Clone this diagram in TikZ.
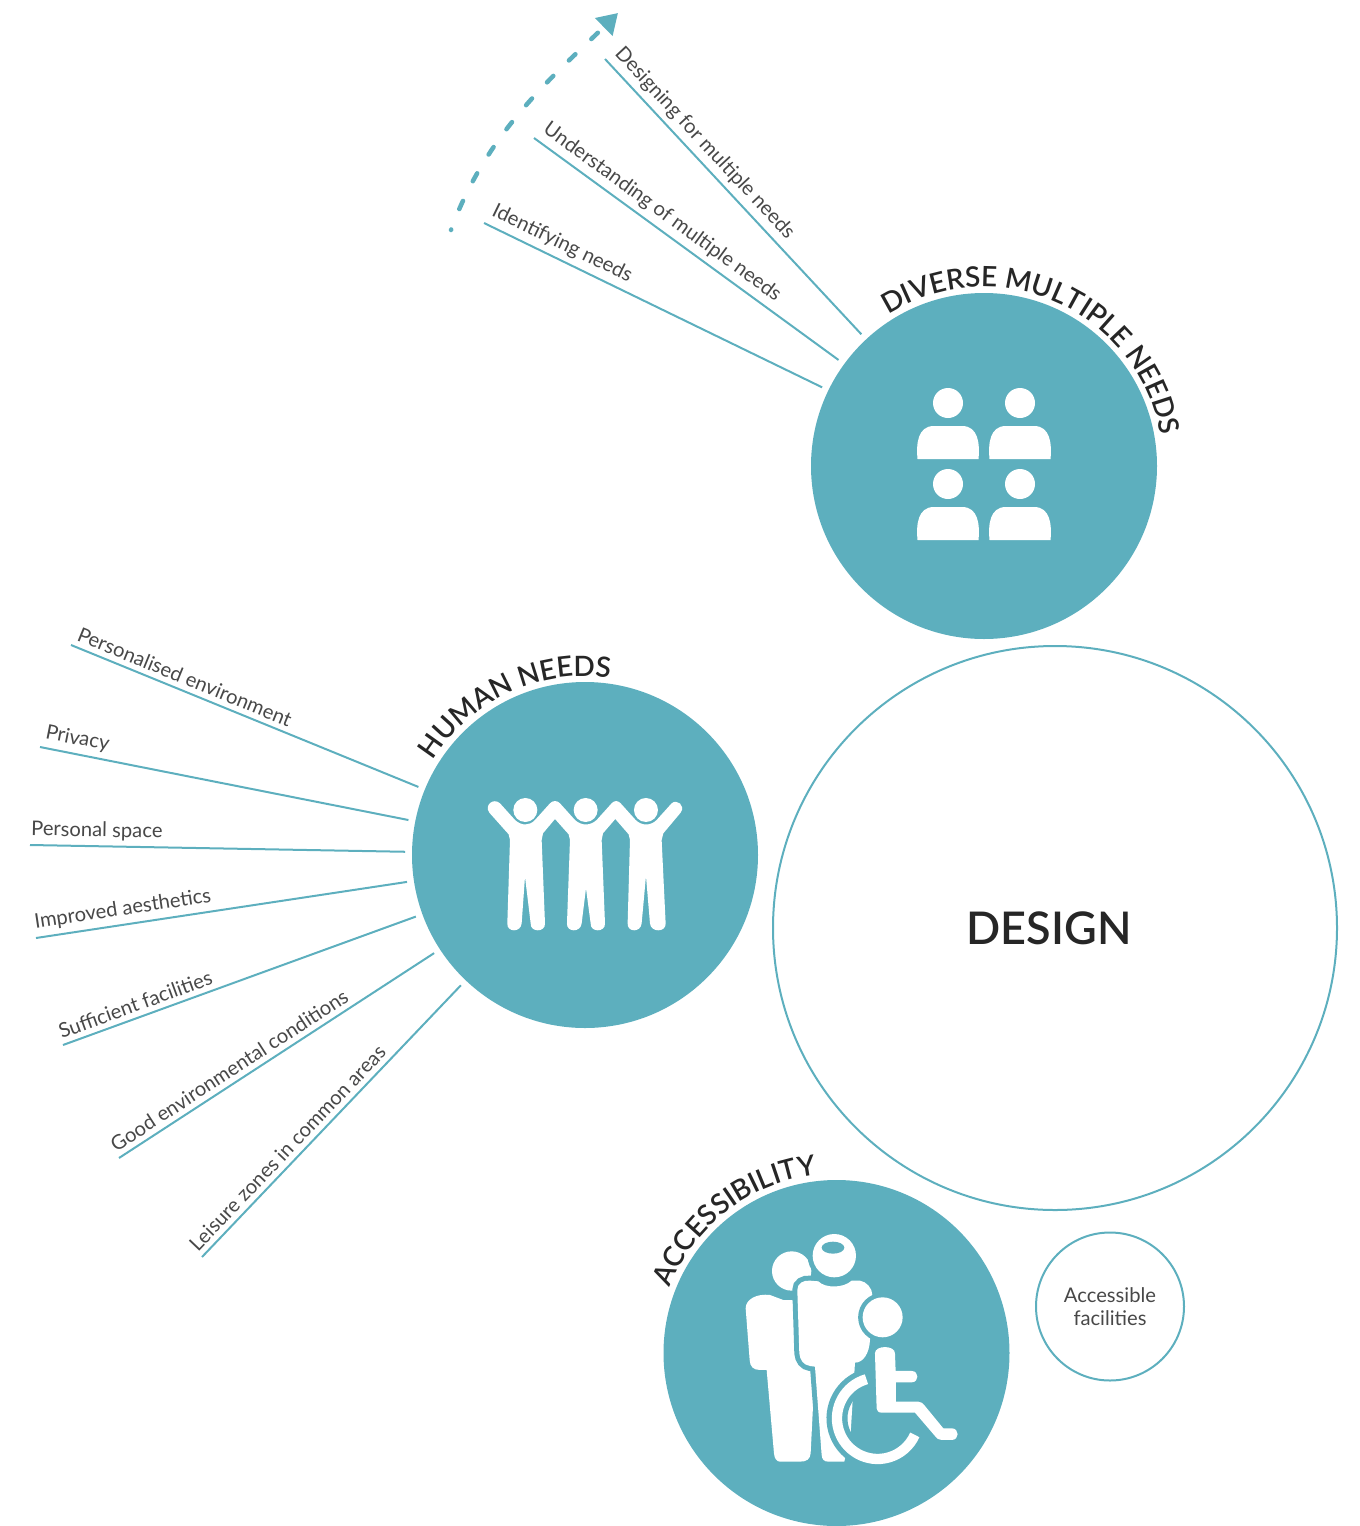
\documentclass[tikz,border=0pt]{standalone}
\usepackage{fontspec}
\setmainfont{Lato}
\newfontfamily\labelfont{Lato}
\newfontfamily\headfont{Lato Semibold}
\usetikzlibrary{arrows.meta,decorations.text}
\definecolor{needteal}{RGB}{93,175,190}
\definecolor{inkgrey}{RGB}{72,72,72}
\tikzset{
  disc/.style={circle,fill=needteal,minimum size=346pt,inner sep=0pt,outer sep=7pt},
  ring/.style={circle,draw=needteal,line width=2pt,inner sep=0pt},
  needline/.style={draw=needteal,line width=2pt},
  needlabel/.style={pos=0,sloped,anchor=south west,inner xsep=2pt,inner ysep=5pt,text=inkgrey,
    font=\labelfont\fontsize{20.2}{24}\selectfont},
  curvelabel/.style={decorate,decoration={text along path,text align=center,
    text={|\headfont\fontsize{28}{30}\selectfont\color{black!85}|#1}}},
  halo/.style={fill=white,preaction={draw=needteal,line width=#1}}
}
\begin{document}
\begin{tikzpicture}[x=1pt,y=-1pt]
\useasboundingbox (0,0) rectangle (1360,1526);

\node[disc] (diverse) at (984,466) {};
\node[disc] (human) at (585,855) {};
\node[disc] (access) at (836.5,1353) {};
\node[ring,minimum size=564pt,font=\headfont\fontsize{45}{50}\selectfont,text=black!85] (design) at (1055,928) {\makebox[0pt]{\hspace{-12pt}DESIGN}};
\node[ring,minimum size=148pt,align=center,text=inkgrey,font=\labelfont\fontsize{20.2}{23}\selectfont] (facilities) at (1110,1306.5) {\raisebox{-1.5pt}{Accessible}\\\raisebox{-1.5pt}{facilities}};

\path[curvelabel={DIVERSE MULTIPLE NEEDS}] (984,466) ++(-130:179) arc[start angle=-130,end angle=-2,radius=179];
\path[curvelabel={HUMAN NEEDS}] (585,855) ++(-170:179) arc[start angle=-170,end angle=-60,radius=179];
\path[curvelabel={ACCESSIBILITY}] (836.5,1353) ++(-170:179) arc[start angle=-170,end angle=-85,radius=179];

\coordinate (identify) at (484,223);
\coordinate (understand) at (534,138);
\coordinate (designing) at (605,59);
\draw[needline] (identify) -- (diverse) node[needlabel] (identifylabel) {Identifying needs};
\draw[needline] (understand) -- (diverse) node[needlabel] (understandlabel) {Understanding of multiple needs};
\draw[needline] (designing) -- (diverse) node[needlabel] (designinglabel) {Designing for multiple needs};

\coordinate (personalised) at (71,645);
\coordinate (privacy) at (40,747);
\coordinate (space) at (30,845);
\coordinate (aesthetics) at (36,938);
\coordinate (sufficient) at (63,1045);
\coordinate (conditions) at (119,1158);
\coordinate (leisure) at (202,1257);
\draw[needline] (personalised) -- (human) node[needlabel] (personalisedlabel) {Personalised environment};
\draw[needline] (privacy) -- (human) node[needlabel] (privacylabel) {Privacy};
\draw[needline] (space) -- (human) node[needlabel,inner xsep=0pt] (spacelabel) {Personal space};
\draw[needline] (aesthetics) -- (human) node[needlabel,inner xsep=0pt] (aestheticslabel) {Improved aesthetics};
\draw[needline] (sufficient) -- (human) node[needlabel,inner xsep=0pt] (sufficientlabel) {Sufficient facilities};
\draw[needline] (conditions) -- (human) node[needlabel,inner xsep=0pt] (conditionslabel) {Good environmental conditions};
\draw[needline] (leisure) -- (human) node[needlabel,inner xsep=0pt] (leisurelabel) {Leisure zones in common areas};

\coordinate (growstart) at (451,230);
\coordinate (growend) at (618,13);
\draw[needteal,line width=4.5pt,line cap=round,dash pattern=on 9pt off 22pt,dash phase=8.5pt,-{Triangle[length=20pt,width=24pt]}]
  (growstart) .. controls (487,130) and (558,72) .. (growend);

\foreach \px/\py in {948/403,1020/403,948/484,1020/484}{
  \begin{scope}[shift={(\px,\py)}]
    \fill[white] (0,0) circle (15);
    \fill[white] (-30.5,56) .. controls (-32,40) and (-30,23) .. (-14,23) -- (14,23)
      .. controls (30,23) and (32,40) .. (30.5,56) -- cycle;
  \end{scope}
}

\begin{scope}[shift={(400,640)},x=.3333pt,y=-.3333pt]
  \fill[white] (376,510) circle (36) (557,510) circle (36) (738,510) circle (36);
  \fill[white] (300,490) -- (345,540) .. controls (365,558) and (388,558) .. (405,540) -- (450,490)
    .. controls (458,481) and (472,481) .. (480,490) -- (525,540) .. controls (545,558) and (570,558) .. (590,540)
    -- (635,490) .. controls (642,481) and (655,481) .. (662,490) -- (707,540) .. controls (725,558) and (752,558) .. (770,540)
    -- (815,490) .. controls (830,476) and (858,496) .. (842,518) -- (790,580) -- (785,600)
    -- (797,850) .. controls (799,878) and (752,878) .. (750,850) -- (738,708) -- (725,850)
    .. controls (723,878) and (681,878) .. (683,850) -- (690,600) -- (686,583) -- (646,537) -- (609,580) -- (605,600)
    -- (615,850) .. controls (617,878) and (570,878) .. (572,850) -- (558,745) -- (545,850)
    .. controls (543,878) and (499,878) .. (501,850) -- (510,600) -- (506,583) -- (465,537) -- (429,580) -- (425,600)
    -- (435,850) .. controls (437,878) and (390,878) .. (392,850) -- (375,710) -- (365,850)
    .. controls (363,878) and (320,878) .. (322,850) -- (330,600) -- (326,583) -- (268,518)
    .. controls (252,496) and (280,472) .. (300,490) -- cycle;
\end{scope}

\begin{scope}[shift={(640,1140)},x=.3333pt,y=-.3333pt]
  \fill[white] (455,393) circle (59);
  \fill[white] (317,505) .. controls (317,478) and (350,460) .. (390,465) -- (430,480) -- (500,482)
    -- (525,680) -- (512,940) .. controls (510,958) and (500,965) .. (480,965) -- (420,965)
    .. controls (410,965) and (403,955) .. (402,940) -- (380,690) -- (360,690)
    .. controls (340,690) and (330,680) .. (329,660) -- cycle;
  \path[halo=10pt] (472,450) .. controls (472,430) and (490,420) .. (510,422) -- (535,424)
    .. controls (555,445) and (610,445) .. (635,422) -- (660,422)
    .. controls (680,425) and (697,445) .. (697,465) -- (690,600)
    .. controls (688,640) and (670,668) .. (645,668) -- (632,880) -- (613,965) -- (565,965)
    .. controls (552,965) and (546,958) .. (545,945) -- (525,680) -- (510,678)
    .. controls (490,675) and (480,660) .. (478,640) -- cycle;
  \path[halo=10pt] (583,347) circle (65);
  \fill[needteal] (579,323) ellipse (34 and 18);
  \path[halo=9pt] (728,532) circle (60);
  \draw[needteal,line width=21pt] (713,835) ++(-106:122) arc[start angle=-106,end angle=-336,radius=122];
  \draw[white,line width=10.3pt] (713,835) ++(-106:122) arc[start angle=-106,end angle=-336,radius=122];
  \fill[white] (705,640) .. controls (705,615) and (765,615) .. (765,640) -- (767,693) -- (815,693)
    .. controls (838,693) and (838,727) .. (815,727) -- (768,727) -- (768,785) -- (835,785)
    .. controls (845,785) and (848,790) .. (855,798) -- (910,865) -- (935,865)
    .. controls (959,865) and (959,900) .. (935,900) -- (905,900) .. controls (895,900) and (890,895) .. (885,888)
    -- (825,818) -- (725,818) .. controls (715,818) and (710,812) .. (710,805) -- cycle;
\end{scope}
\end{tikzpicture}
\end{document}
